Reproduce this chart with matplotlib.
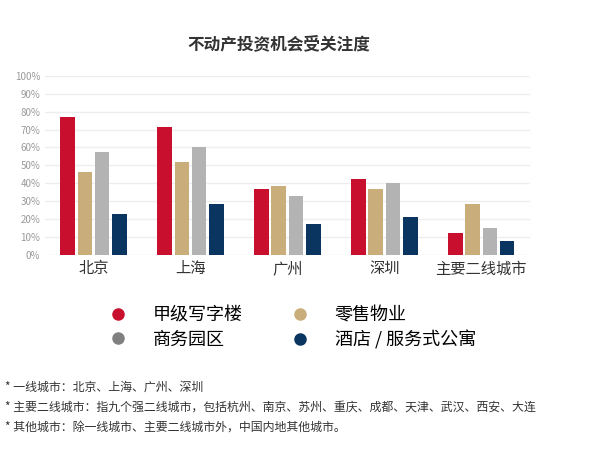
import numpy as np
import matplotlib.pyplot as plt
from matplotlib.lines import Line2D

plt.rcParams['font.family'] = ['Noto Sans CJK SC', 'DejaVu Sans']

cities = ["北京", "上海", "广州", "深圳", "主要二线城市"]
series = ["甲级写字楼", "零售物业", "商务园区", "酒店 / 服务式公寓"]
office = [77, 71.5, 36.5, 42.5, 12]
retail = [46, 52, 38.5, 36.5, 28.5]
park = [57.5, 60, 33, 40, 15]
hotel = [22.8, 28.5, 17.3, 21, 7.6]
colors = ["#C8102E", "#C9AD7A", "#B3B3B3", "#0A3560"]
legend_colors = ["#C8102E", "#C9AD7A", "#808080", "#0A3560"]
notes = [
    "* 一线城市：北京、上海、广州、深圳",
    "* 主要二线城市：指九个强二线城市，包括杭州、南京、苏州、重庆、成都、天津、武汉、西安、大连",
    "* 其他城市：除一线城市、主要二线城市外，中国内地其他城市。",
]

fig = plt.figure(figsize=(6, 4.65), dpi=100)
ax = fig.add_axes([0.075, 0.452, 0.808, 0.385])
x = np.arange(len(cities))
w = 0.15
for i, vals in enumerate([office, retail, park, hotel]):
    ax.bar(x + (i - 1.5) * 0.178, vals, w, color=colors[i], zorder=3)

ax.set_ylim(0, 100)
ax.set_yticks(range(0, 101, 10))
ax.set_yticklabels([f"{v}%" for v in range(0, 101, 10)], fontsize=7, color="#999999")
ax.set_xticks(x)
ax.set_xticklabels(cities, fontsize=11, color="#333333")
ax.set_xlim(-0.5, 4.5)
ax.grid(axis="y", color="#EEEEEE", linewidth=1, zorder=0)
for s in ax.spines.values():
    s.set_visible(False)
ax.tick_params(length=0)
ax.tick_params(axis="x", pad=4)

fig.text(0.465, 0.895, "不动产投资机会受关注度", ha="center", fontsize=12, fontweight="bold", color="#333333")

# column-major ordering so rows read: 甲级/零售, 商务/酒店
order = [0, 2, 1, 3]
handles = [Line2D([], [], marker="o", linestyle="", markersize=8, color=legend_colors[k]) for k in order]
labels = [series[k] for k in order]
fig.legend(handles, labels, loc="center", bbox_to_anchor=(0.48, 0.295), ncol=2, frameon=False,
           fontsize=13, columnspacing=2.2, labelspacing=0.35, handletextpad=0.9)

for i, n in enumerate(notes):
    fig.text(0.008, 0.168 - i * 0.043, n, fontsize=8.6, color="#333333", va="center")

fig.savefig("out.png", dpi=100)
